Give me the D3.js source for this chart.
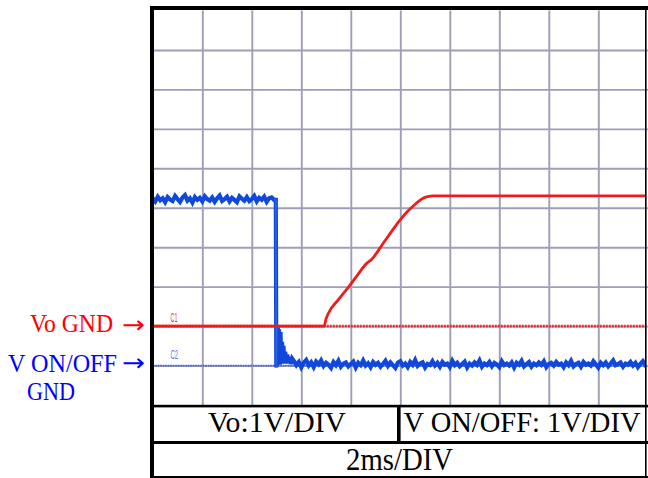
<!DOCTYPE html>
<html><head><meta charset="utf-8">
<script src="https://cdn.jsdelivr.net/npm/d3@7"></script>
<style>html,body{margin:0;padding:0;background:#fff}svg{display:block}</style>
</head><body><div id="chart"></div>
<script>
// ---- data ----
const timeDomain = [0, 20];          // ms (2 ms/DIV, 10 DIV)
const divDomain = [0, 10];           // vertical divisions
const gridDivsX = [2,4,6,8,10,12,14,16,18];
const gridDivsY = [1,2,3,4,5,6,7,8,9];
const voOffset = 2;                  // Vo GND at 2 div
const vonOffset = 1;                 // V ON/OFF GND at 1 div

// Vo trace (V)
const voT = [0, 6.92, 7.0, 7.09, 7.5, 7.97, 8.3, 8.64, 8.84, 9.31, 9.65, 9.98, 10.25, 10.51, 10.75, 10.92, 11.1, 11.32, 20];
const voV = [0, 0, 0.18, 0.32, 0.67, 1.04, 1.32, 1.59, 1.69, 2.10, 2.40, 2.68, 2.88, 3.04, 3.17, 3.24, 3.28, 3.30, 3.30];

// V ON/OFF trace (V)
const vonHighStep = 0.1;
const vonHigh = [4.24,4.16,4.28,4.19,4.24,4.14,4.27,4.21,4.17,4.30,4.22,4.15,4.26,4.32,4.18,4.24,4.13,4.27,4.20,4.25,4.16,4.29,4.22,4.18,4.26,4.15,4.24,4.31,4.17,4.22,4.28,4.16,4.25,4.20,4.14,4.29,4.23,4.18,4.27,4.17,4.22,4.30,4.16,4.25,4.20,4.28,4.15,4.24,4.26,4.20];
const vonEdgeT = [4.97, 4.99, 5.01, 5.03, 5.05, 5.08, 5.10, 5.13, 5.16, 5.19, 5.22, 5.25, 5.28, 5.31, 5.35, 5.39, 5.43, 5.48, 5.53, 5.58, 5.63];
const vonEdgeV = [4.20, -0.05, 0.95, 0.00, 0.97, 0.05, 0.92, 0.02, 0.85, 0.05, 0.60, 0.05, 0.50, 0.08, 0.35, 0.05, 0.28, 0.06, 0.22, 0.04, 0.18];
const vonLowStart = 5.7, vonLowStep = 0.1;
const vonLow = [
0.12,0.01,0.09,-0.05,0.07,0.14,0.00,0.08,-0.04,0.10,0.03,0.13,
-0.01,0.07,0.02,-0.06,0.09,0.01,0.12,-0.03,0.05,0.08,-0.02,0.04,
0.10,-0.05,0.07,0.01,0.13,0.00,0.06,-0.04,0.09,0.02,0.07,-0.03,
0.04,0.12,-0.01,0.08,0.01,-0.06,0.07,0.11,0.00,0.05,-0.04,0.09,
0.02,0.14,-0.01,0.05,0.08,-0.05,0.04,0.01,0.11,0.00,0.07,-0.03,
0.09,0.02,0.05,-0.04,0.12,0.01,0.07,-0.02,0.04,0.10,-0.05,0.05,
0.00,0.08,0.02,0.13,-0.03,0.05,0.01,0.09,-0.02,0.07,0.03,-0.04,
0.11,0.01,0.05,0.00,0.08,-0.05,0.07,0.02,0.12,-0.02,0.04,0.09,
-0.03,0.05,0.01,0.08,0.02,0.11,-0.04,0.04,0.07,0.00,0.09,0.02,
0.05,-0.04,0.08,0.01,0.12,-0.02,0.04,0.07,-0.03,0.09,0.02,0.05,
0.00,0.11,0.03,-0.05,0.07,0.01,0.08,-0.02,0.05,0.13,0.01,0.04,
0.08,-0.03,0.05,0.02,0.09,0.00,0.07,-0.04,0.04,0.11,0.01,0.05];

const sideLabels = ["Vo GND", "V ON/OFF", "GND"];
const arrowLabel = "→";
const tableLabels = ["Vo:1V/DIV", "V ON/OFF: 1V/DIV", "2ms/DIV"];
const chLabels = ["C1", "C2"];

// ---- drawing ----
const W = 648, H = 478;
const svg = d3.select("#chart").append("svg").attr("width", W).attr("height", H);
svg.append("rect").attr("width", W).attr("height", H).attr("fill", "#fff");

const x = d3.scaleLinear().domain(timeDomain).range([152.8, 647.8]);
const y = d3.scaleLinear().domain(divDomain).range([405, 10.5]);

// grid via axes
const gridColor = "#9e9eb8";
const gx = svg.append("g").attr("transform", `translate(0,${y(0)})`)
  .call(d3.axisBottom(x).tickValues(gridDivsX).tickSize(-(y(0) - y(10))).tickFormat(""));
gx.select(".domain").remove();
gx.selectAll(".tick line").attr("stroke", gridColor).attr("stroke-width", 1.9);
const gy = svg.append("g").attr("transform", `translate(${x(0)},0)`)
  .call(d3.axisLeft(y).tickValues(gridDivsY).tickSize(-(x(20) - x(0))).tickFormat(""));
gy.select(".domain").remove();
gy.selectAll(".tick line").attr("stroke", gridColor).attr("stroke-width", 1.9);

svg.append("clipPath").attr("id", "clip").append("rect")
  .attr("x", x(0)).attr("y", y(10)).attr("width", 646 - x(0)).attr("height", y(0) - y(10));
const plot = svg.append("g").attr("clip-path", "url(#clip)");

// reference (ground) dotted lines
plot.append("line").attr("x1", x(0)).attr("x2", x(20)).attr("y1", y(vonOffset)).attr("y2", y(vonOffset))
  .attr("stroke", "#3d62d2").attr("stroke-width", 1.8).attr("stroke-dasharray", "1.5,1");
plot.append("line").attr("x1", x(0)).attr("x2", x(20)).attr("y1", y(voOffset)).attr("y2", y(voOffset))
  .attr("stroke", "#ee2a2a").attr("stroke-width", 2.6).attr("stroke-dasharray", "2,1");

const line = d3.line().x(d => x(d[0])).y(d => y(d[1]));

// V ON/OFF trace
const vonPts = [];
vonHigh.forEach((v, i) => vonPts.push([i * vonHighStep, v + vonOffset]));
vonEdgeT.forEach((t, i) => vonPts.push([t, vonEdgeV[i] + vonOffset]));
vonLow.forEach((v, i) => vonPts.push([vonLowStart + i * vonLowStep, v + vonOffset]));
plot.append("path").datum(vonPts).attr("d", line).attr("fill", "none")
  .attr("stroke", "#1048dc").attr("stroke-width", 4.2).attr("stroke-linejoin", "miter");
// thin edge line
plot.append("path").datum(vonPts.filter(p => p[0] >= 4.9 && p[0] <= 5.02)).attr("d", line)
  .attr("fill", "none").attr("stroke", "#2a66e0").attr("stroke-width", 1.6);

// Vo trace
const voPts = voT.map((t, i) => [t, voV[i] + voOffset]);
plot.append("path").datum(voPts).attr("d", d3.line().x(d => x(d[0])).y(d => y(d[1])).curve(d3.curveMonotoneX))
  .attr("fill", "none").attr("stroke", "#f01c1c").attr("stroke-width", 2.8).attr("stroke-linejoin", "round");

// channel markers
svg.append("text").attr("transform", "translate(170.5,322) scale(1,1.1)").text(chLabels[0])
  .attr("font-family", "Liberation Sans").attr("font-size", 11).attr("textLength", 7).attr("lengthAdjust", "spacingAndGlyphs")
  .attr("fill", "#e23a3a");
svg.append("text").attr("transform", "translate(170.5,359) scale(1,1.1)").text(chLabels[1])
  .attr("font-family", "Liberation Sans").attr("font-size", 11).attr("textLength", 7.5).attr("lengthAdjust", "spacingAndGlyphs")
  .attr("fill", "#5a7cd2");

// frame
const blk = "#000";
svg.append("rect").attr("x", 150).attr("y", 6).attr("width", 4).attr("height", 472).attr("fill", blk);
svg.append("rect").attr("x", 150).attr("y", 6).attr("width", 498).attr("height", 4).attr("fill", blk);
svg.append("rect").attr("x", 645).attr("y", 6).attr("width", 1.6).attr("height", 472).attr("fill", blk);
svg.append("rect").attr("x", 150).attr("y", 404.8).attr("width", 498).attr("height", 2.6).attr("fill", blk);
svg.append("rect").attr("x", 150).attr("y", 441).attr("width", 498).attr("height", 3).attr("fill", blk);
svg.append("rect").attr("x", 150).attr("y", 476).attr("width", 498).attr("height", 2).attr("fill", blk);
svg.append("rect").attr("x", 397).attr("y", 405).attr("width", 3.6).attr("height", 38).attr("fill", blk);

// table text
const serif = "Liberation Serif, Times New Roman, serif";
svg.append("text").attr("transform", "translate(277,432) scale(1,1.05)").attr("text-anchor", "middle").text(tableLabels[0])
  .attr("font-family", serif).attr("font-size", 28).attr("textLength", 138).attr("lengthAdjust", "spacingAndGlyphs");
svg.append("text").attr("transform", "translate(522,432) scale(1,1.05)").attr("text-anchor", "middle").text(tableLabels[1])
  .attr("font-family", serif).attr("font-size", 28).attr("textLength", 237).attr("lengthAdjust", "spacingAndGlyphs");
svg.append("text").attr("transform", "translate(399.5,469.5) scale(1,1.1)").attr("text-anchor", "middle").text(tableLabels[2])
  .attr("font-family", serif).attr("font-size", 28).attr("textLength", 107).attr("lengthAdjust", "spacingAndGlyphs");

// side labels
const red = "#ff0000", blue = "#0000ff";
svg.append("text").attr("transform", "translate(113,332) scale(1,1.08)").attr("text-anchor", "end").text(sideLabels[0])
  .attr("font-family", serif).attr("font-size", 24).attr("fill", red).attr("textLength", 83).attr("lengthAdjust", "spacingAndGlyphs");
svg.append("text").attr("x", 122).attr("y", 332.5).text(arrowLabel)
  .attr("font-family", "DejaVu Sans").attr("font-size", 24).attr("fill", red).attr("textLength", 23).attr("lengthAdjust", "spacingAndGlyphs");
svg.append("text").attr("transform", "translate(117,371.5) scale(1,1.08)").attr("text-anchor", "end").text(sideLabels[1])
  .attr("font-family", serif).attr("font-size", 24).attr("fill", blue).attr("textLength", 109).attr("lengthAdjust", "spacingAndGlyphs");
svg.append("text").attr("x", 122).attr("y", 371).text(arrowLabel)
  .attr("font-family", "DejaVu Sans").attr("font-size", 24).attr("fill", blue).attr("textLength", 23).attr("lengthAdjust", "spacingAndGlyphs");
svg.append("text").attr("transform", "translate(27,400) scale(1,1.08)").text(sideLabels[2])
  .attr("font-family", serif).attr("font-size", 24).attr("fill", blue).attr("textLength", 48).attr("lengthAdjust", "spacingAndGlyphs");
</script></body></html>
